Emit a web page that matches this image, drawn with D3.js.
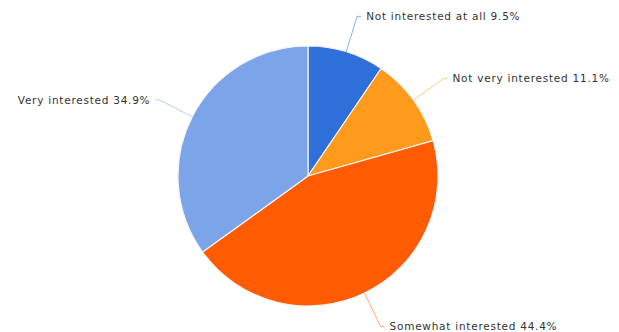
<!DOCTYPE html>
<html>
  <head>
    <meta charset="utf-8">
    <script src="https://d3js.org/d3.v7.min.js"></script>
    <style>
      body { margin: 0; background: #fff; }
      .label { font-family: "DejaVu Sans", sans-serif; font-size: 10.5px; letter-spacing: 0.75px; fill: #333; }
    </style>
  </head>
  <body>
    <script>
      var categories = ["Not interested at all", "Not very interested", "Somewhat interested", "Very interested"];
      var values = [9.5, 11.1, 44.4, 34.9];
      var colors = ["#2e6fd9", "#ff9a1c", "#ff5b00", "#7ba4e9"];

      var width = 619, height = 332;
      var cx = 308, cy = 176, radius = 130, labelRadius = 167;

      var data = categories.map(function(c, i) {
        return {name: c, value: values[i], color: colors[i]};
      });

      var svg = d3.select("body").append("svg")
          .attr("width", width)
          .attr("height", height);

      var g = svg.append("g")
          .attr("transform", "translate(" + cx + "," + cy + ")");

      var pie = d3.pie().sort(null).value(function(d) { return d.value; });
      var arc = d3.arc().innerRadius(0).outerRadius(radius);
      var arcs = pie(data);

      g.selectAll("path.slice")
          .data(arcs)
        .enter().append("path")
          .attr("class", "slice")
          .attr("d", arc)
          .attr("fill", function(d) { return d.data.color; })
          .attr("stroke", "#f4f4f4")
          .attr("stroke-width", 1.2);

      function pointAt(a, r) {
        return [r * Math.sin(a), -r * Math.cos(a)];
      }
      function midAngle(d) { return (d.startAngle + d.endAngle) / 2; }
      function side(d) { return Math.sin(midAngle(d)) >= 0 ? 1 : -1; }

      // leader lines
      g.selectAll("polyline")
          .data(arcs)
        .enter().append("polyline")
          .attr("fill", "none")
          .attr("stroke", function(d) { return d.data.color; })
          .attr("stroke-opacity", 0.55)
          .attr("stroke-width", 1)
          .attr("points", function(d) {
            var p0 = pointAt(midAngle(d), radius);
            var p1 = pointAt(midAngle(d), labelRadius);
            return [p0, p1, [p1[0] + side(d) * 4, p1[1]]].join(" ");
          });

      g.selectAll("text.label")
          .data(arcs)
        .enter().append("text")
          .attr("class", "label")
          .attr("x", function(d) { return pointAt(midAngle(d), labelRadius)[0] + side(d) * 9; })
          .attr("y", function(d) { return pointAt(midAngle(d), labelRadius)[1]; })
          .attr("dy", "0.35em")
          .attr("text-anchor", function(d) { return side(d) > 0 ? "start" : "end"; })
          .text(function(d) { return d.data.name + " " + d.data.value.toFixed(1) + "%"; });
    </script>
  </body>
</html>
